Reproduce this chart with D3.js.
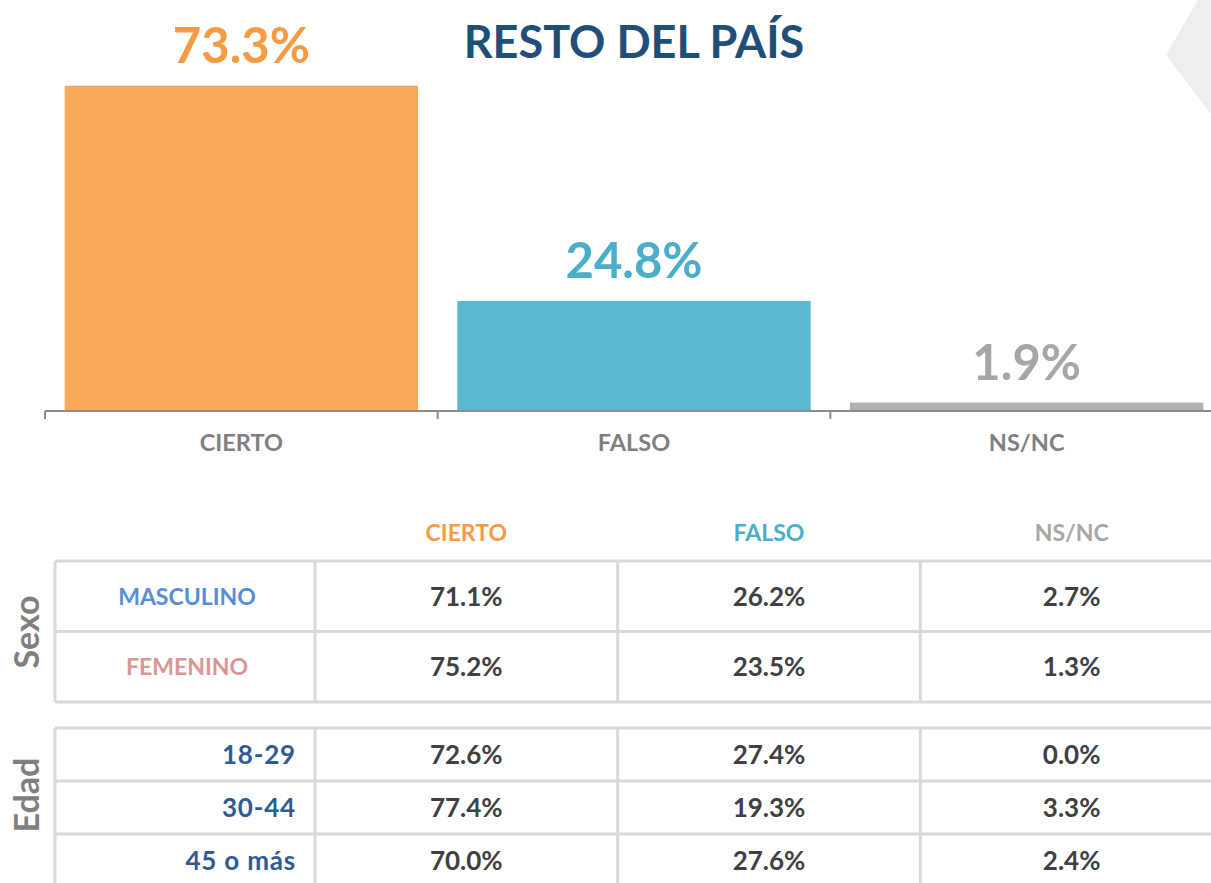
<!DOCTYPE html>
<html><head><meta charset="utf-8">
<script src="https://cdn.jsdelivr.net/npm/d3@7"></script>
<style>html,body{margin:0;padding:0;background:#fff;overflow:hidden}svg{display:block}</style>
</head><body>
<script>
const title = "RESTO DEL PAÍS";
const categories = ["CIERTO", "FALSO", "NS/NC"];
const totals = [73.3, 24.8, 1.9];
const catColors = ["#F9A857", "#5BB9D2", "#B2B2B2"];
const labelColors = ["#F79A44", "#4BADC8", "#A6A6A6"];
const sexRows = ["MASCULINO", "FEMENINO"];
const sexColors = ["#558ED5", "#D99694"];
const sexValues = [[71.1, 26.2, 2.7], [75.2, 23.5, 1.3]];
const ageRows = ["18-29", "30-44", "45 o más"];
const ageValues = [[72.6, 27.4, 0.0], [77.4, 19.3, 3.3], [70.0, 27.6, 2.4]];
const groupLabels = ["Sexo", "Edad"];

const W = 1211, H = 883;
const FONT = "Lato, 'Liberation Sans', sans-serif";
const svg = d3.select("body").append("svg").attr("width", W).attr("height", H)
  .style("font-family", FONT);

// decoration top-right
svg.append("polygon").attr("points", "1198,0 1211,0 1211,114 1166,55").attr("fill", "#EEEEEE");

// Bar chart
const x = d3.scaleBand().domain(categories).range([45, 1223]).paddingInner(0.1).paddingOuter(0.05);
const y = d3.scaleLinear().domain([0, 80]).range([411, 56]);

svg.append("text").attr("x", 634).attr("y", 58).attr("text-anchor", "middle")
  .attr("font-size", 45).attr("font-weight", "bold").attr("fill", "#1F4E79").text(title);

const bars = svg.append("g");
bars.selectAll("rect").data(totals).join("rect")
  .attr("x", (d, i) => x(categories[i]))
  .attr("y", d => y(d))
  .attr("width", x.bandwidth())
  .attr("height", d => y(0) - y(d))
  .attr("fill", (d, i) => catColors[i]);

bars.selectAll("text").data(totals).join("text")
  .attr("x", (d, i) => x(categories[i]) + x.bandwidth() / 2)
  .attr("y", d => y(d) - 23)
  .attr("text-anchor", "middle").attr("font-size", 49).attr("font-weight", "bold")
  .attr("fill", (d, i) => labelColors[i])
  .text(d => d.toFixed(1) + "%");

// axis
const step = x.step();
const axisG = svg.append("g").attr("transform", `translate(0,${y(0)})`);
axisG.append("line").attr("x1", 45).attr("x2", W).attr("stroke", "#8C8C8C").attr("stroke-width", 2);
const tickXs = categories.map(c => x(c) - x.paddingInner() * step / 2);
axisG.selectAll("line.tick").data(tickXs).join("line").attr("class", "tick")
  .attr("x1", d => d).attr("x2", d => d).attr("y1", 0).attr("y2", 8)
  .attr("stroke", "#8C8C8C").attr("stroke-width", 2);
axisG.selectAll("text").data(categories).join("text")
  .attr("x", d => x(d) + x.bandwidth() / 2).attr("y", 40)
  .attr("text-anchor", "middle").attr("font-size", 23.5).attr("font-weight", "bold")
  .attr("fill", "#7F7F7F").text(d => d);

// Table
const colX = d3.scaleBand().domain(categories).range([315, 1223]);
const labelX0 = 55, labelX1 = 315;
const gridColor = "#D9D9D9";

svg.append("g").selectAll("text").data(categories).join("text")
  .attr("x", d => colX(d) + colX.bandwidth() / 2).attr("y", 541)
  .attr("text-anchor", "middle").attr("font-size", 23).attr("font-weight", "bold")
  .attr("fill", (d, i) => labelColors[i]).text(d => d);

function drawGroup(rows, values, y0, y1, labelFn, groupLabel, labelCy) {
  const rowY = d3.scaleBand().domain(rows).range([y0, y1]);
  const g = svg.append("g");
  const hs = rows.map(r => rowY(r)).concat([y1]);
  g.selectAll("line.h").data(hs).join("line").attr("class", "h")
    .attr("x1", labelX0).attr("x2", W).attr("y1", d => d).attr("y2", d => d)
    .attr("stroke", gridColor).attr("stroke-width", 3);
  const vs = [labelX0, labelX1].concat(categories.slice(1).map(c => colX(c)));
  g.selectAll("line.v").data(vs).join("line").attr("class", "v")
    .attr("x1", d => d).attr("x2", d => d).attr("y1", y0).attr("y2", y1)
    .attr("stroke", gridColor).attr("stroke-width", 3);
  rows.forEach((r, ri) => {
    const cy = rowY(r) + rowY.bandwidth() / 2;
    labelFn(g, r, ri, cy);
    g.selectAll(null).data(values[ri]).join("text")
      .attr("x", (d, ci) => colX(categories[ci]) + colX.bandwidth() / 2)
      .attr("y", cy).attr("dy", "0.36em")
      .attr("text-anchor", "middle").attr("font-size", 26).attr("font-weight", "bold")
      .attr("fill", "#404040").text(d => d.toFixed(1) + "%");
  });
  g.append("text").attr("transform", `translate(39,${labelCy}) rotate(-90)`)
    .attr("text-anchor", "middle").attr("font-size", 34).attr("font-weight", "bold")
    .attr("fill", "#7F7F7F").text(groupLabel);
}

drawGroup(sexRows, sexValues, 561, 702, (g, r, ri, cy) => {
  g.append("text").attr("x", (labelX0 + labelX1) / 2 + 2).attr("y", cy).attr("dy", "0.36em")
    .attr("text-anchor", "middle").attr("font-size", 23).attr("font-weight", "bold")
    .attr("fill", sexColors[ri]).text(r);
}, groupLabels[0], 632);

drawGroup(ageRows, ageValues, 728, 887, (g, r, ri, cy) => {
  g.append("text").attr("x", 296).attr("y", cy).attr("dy", "0.36em")
    .attr("text-anchor", "end").attr("font-size", 26).attr("font-weight", "bold")
    .attr("letter-spacing", 0.8)
    .attr("fill", "#2F5B95").text(r);
}, groupLabels[1], 795);
</script>
</body></html>
